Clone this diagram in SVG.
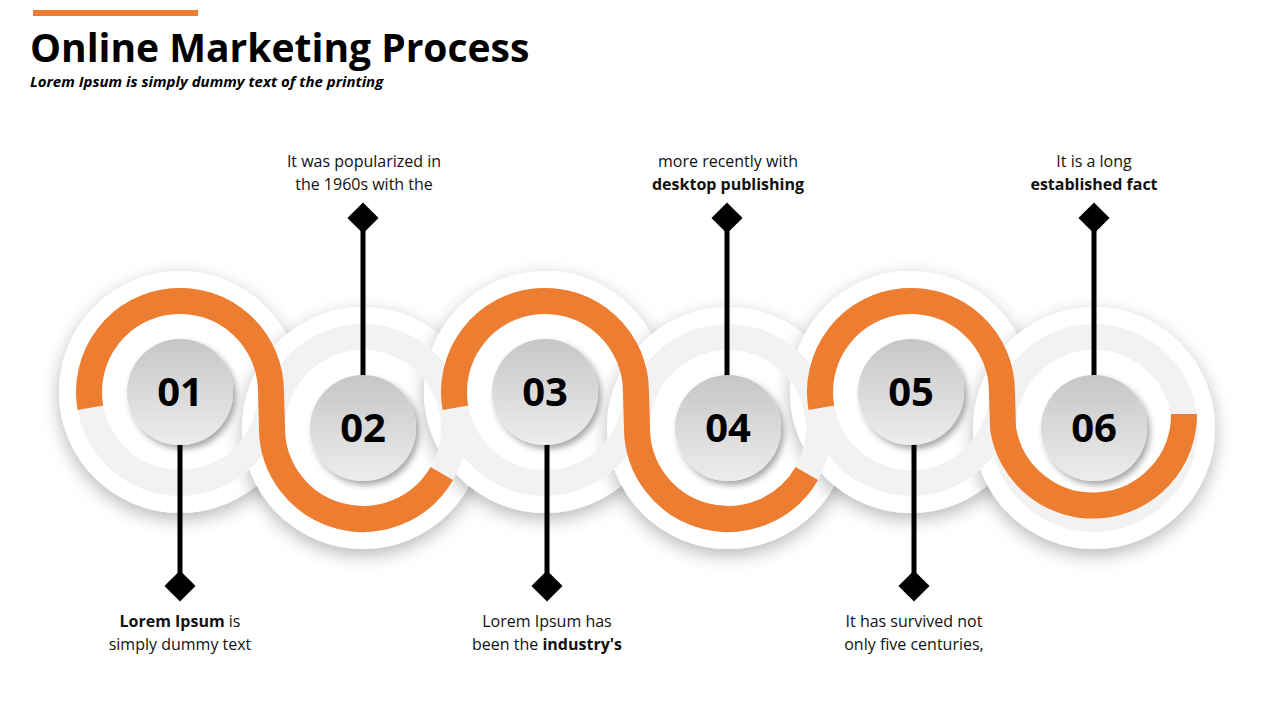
<svg xmlns="http://www.w3.org/2000/svg" width="1280" height="720" viewBox="0 0 1280 720">
<defs>
<filter id="sh" x="-30%" y="-30%" width="160%" height="160%"><feDropShadow dx="0" dy="6" stdDeviation="9" flood-color="#000" flood-opacity="0.28"/></filter>
<filter id="sh2" x="-30%" y="-30%" width="160%" height="160%"><feDropShadow dx="3" dy="4" stdDeviation="3" flood-color="#000" flood-opacity="0.35"/></filter>
<linearGradient id="g" x1="0" y1="0" x2="0" y2="1"><stop offset="0" stop-color="#c6c6c6"/><stop offset="1" stop-color="#ededed"/></linearGradient>
<style>
.disc{fill:#fff;filter:url(#sh)}
.gr{fill:none;stroke:#f2f2f2;stroke-width:26}
.or{fill:none;stroke:#ED7D31;stroke-width:26}
.in{fill:url(#g);filter:url(#sh2)}
.num{font-family:"Open Sans",sans-serif;font-weight:bold;font-size:40px;text-anchor:middle;fill:#000}
.t{font-family:"Open Sans",sans-serif;font-size:16px;text-anchor:middle;fill:#111}
.b{font-weight:bold}
.stem{stroke:#000;stroke-width:5}
</style>
</defs>
<rect x="33" y="10" width="165" height="6" fill="#ED7D31"/>
<text x="30" y="62" font-family="Open Sans,sans-serif" font-weight="bold" font-size="39" fill="#000">Online Marketing Process</text>
<text x="30" y="87" font-family="Open Sans,sans-serif" font-weight="bold" font-style="italic" font-size="15" fill="#000">Lorem Ipsum is simply dummy text of the printing</text>
<g id="discs">
<circle class="disc" cx="180" cy="392" r="121"/>
<circle class="disc" cx="363" cy="428" r="121"/>
<circle class="disc" cx="545" cy="392" r="121"/>
<circle class="disc" cx="728" cy="428" r="121"/>
<circle class="disc" cx="911" cy="392" r="121"/>
<circle class="disc" cx="1094" cy="428" r="121"/>
</g>
<g id="rings">
<circle class="gr" cx="180" cy="392" r="91"/>
<circle class="gr" cx="363" cy="428" r="91"/>
<circle class="gr" cx="545" cy="392" r="91"/>
<circle class="gr" cx="728" cy="428" r="91"/>
<circle class="gr" cx="911" cy="392" r="91"/>
<circle class="gr" cx="1094" cy="428" r="91"/>
<path class="or" d="M90.4,407.8 A91,91 0 1 1 271,392 L272,428 A91,91 0 0 0 441.8,473.5"/>
<path class="or" d="M455.4,407.8 A91,91 0 1 1 636,392 L637,428 A91,91 0 0 0 806.8,473.5"/>
<path class="or" d="M821.4,407.8 A91,91 0 1 1 1002,392 L1003,428 A91,91 0 0 0 1184,414"/>
</g>
<g id="connectors">
<line class="stem" x1="180" y1="440" x2="180" y2="586"/><rect x="169" y="575" width="22" height="22" transform="rotate(45 180 586)"/>
<line class="stem" x1="363" y1="218" x2="363" y2="380"/><rect x="352" y="207" width="22" height="22" transform="rotate(45 363 218)"/>
<line class="stem" x1="547" y1="440" x2="547" y2="586"/><rect x="536" y="575" width="22" height="22" transform="rotate(45 547 586)"/>
<line class="stem" x1="727" y1="218" x2="727" y2="380"/><rect x="716" y="207" width="22" height="22" transform="rotate(45 727 218)"/>
<line class="stem" x1="914" y1="440" x2="914" y2="586"/><rect x="903" y="575" width="22" height="22" transform="rotate(45 914 586)"/>
<line class="stem" x1="1094" y1="218" x2="1094" y2="380"/><rect x="1083" y="207" width="22" height="22" transform="rotate(45 1094 218)"/>
</g>
<g id="n01"><circle class="in" cx="180" cy="392" r="53"/><text class="num" x="180" y="406">01</text>
<text class="t" x="180" y="627"><tspan class="b">Lorem Ipsum</tspan> is</text><text class="t" x="180" y="650">simply dummy text</text></g>
<g id="n02"><circle class="in" cx="363" cy="428" r="53"/><text class="num" x="363" y="442">02</text>
<text class="t" x="364" y="167">It was popularized in</text><text class="t" x="364" y="190">the 1960s with the</text></g>
<g id="n03"><circle class="in" cx="545" cy="392" r="53"/><text class="num" x="545" y="406">03</text>
<text class="t" x="547" y="627">Lorem Ipsum has</text><text class="t" x="547" y="650">been the <tspan class="b">industry's</tspan></text></g>
<g id="n04"><circle class="in" cx="728" cy="428" r="53"/><text class="num" x="728" y="442">04</text>
<text class="t" x="728" y="167">more recently with</text><text class="t b" x="728" y="190">desktop publishing</text></g>
<g id="n05"><circle class="in" cx="911" cy="392" r="53"/><text class="num" x="911" y="406">05</text>
<text class="t" x="914" y="627">It has survived not</text><text class="t" x="914" y="650">only five centuries,</text></g>
<g id="n06"><circle class="in" cx="1094" cy="428" r="53"/><text class="num" x="1094" y="442">06</text>
<text class="t" x="1094" y="167">It is a long</text><text class="t b" x="1094" y="190">established fact</text></g>
</svg>
